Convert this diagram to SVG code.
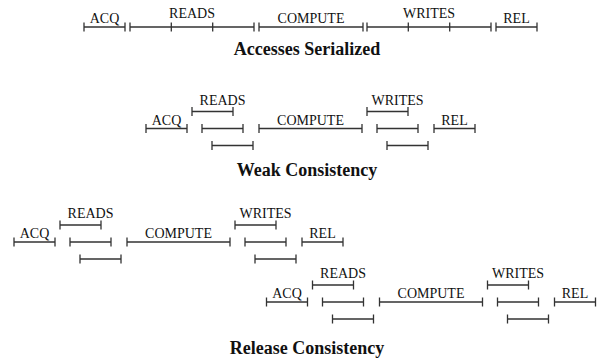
<svg xmlns="http://www.w3.org/2000/svg" width="603" height="360" viewBox="0 0 603 360">
<style>
.bar{fill:none;stroke:#333;stroke-width:1.3}
.lbl{font-family:"Liberation Serif","Times New Roman",serif;font-size:14px;text-anchor:middle;fill:#111}
.ttl{font-family:"Liberation Serif","Times New Roman",serif;font-size:18px;font-weight:bold;text-anchor:middle;fill:#111}
</style>
<rect width="603" height="360" fill="#fff"/>

<!-- Accesses Serialized -->
<g id="serialized">
  <g id="ser-acq">
    <path class="bar" d="M84 27H125M84 22.5V31.5M125 22.5V31.5"/>
    <text class="lbl" x="104.5" y="23">ACQ</text>
  </g>
  <g id="ser-reads">
    <path class="bar" d="M130 27H254M130 22.5V31.5M171.3 22.5V31.5M212.7 22.5V31.5M254 22.5V31.5"/>
    <text class="lbl" x="192" y="17.5">READS</text>
  </g>
  <g id="ser-compute">
    <path class="bar" d="M259 27H363M259 22.5V31.5M363 22.5V31.5"/>
    <text class="lbl" x="311" y="23">COMPUTE</text>
  </g>
  <g id="ser-writes">
    <path class="bar" d="M367 27H491M367 22.5V31.5M408.3 22.5V31.5M449.7 22.5V31.5M491 22.5V31.5"/>
    <text class="lbl" x="429" y="17.5">WRITES</text>
  </g>
  <g id="ser-rel">
    <path class="bar" d="M496 27H537M496 22.5V31.5M537 22.5V31.5"/>
    <text class="lbl" x="516.5" y="23">REL</text>
  </g>
  <text class="ttl" x="307" y="54.5">Accesses Serialized</text>
</g>

<!-- Weak Consistency -->
<g id="weak" transform="translate(146,128.5)">
  <g id="weak-acq">
    <path class="bar" d="M0 0H41M0 -4.5V4.5M41 -4.5V4.5"/>
    <text class="lbl" x="20.5" y="-4">ACQ</text>
  </g>
  <g id="weak-reads">
    <path class="bar" d="M46 -17H87M46 -21.5V-12.5M87 -21.5V-12.5"/>
    <path class="bar" d="M56 0H97M56 -4.5V4.5M97 -4.5V4.5"/>
    <path class="bar" d="M66 17H107M66 12.5V21.5M107 12.5V21.5"/>
    <text class="lbl" x="76.5" y="-24">READS</text>
  </g>
  <g id="weak-compute">
    <path class="bar" d="M113 0H216M113 -4.5V4.5M216 -4.5V4.5"/>
    <text class="lbl" x="164.5" y="-4">COMPUTE</text>
  </g>
  <g id="weak-writes">
    <path class="bar" d="M221 -17H262M221 -21.5V-12.5M262 -21.5V-12.5"/>
    <path class="bar" d="M231 0H272M231 -4.5V4.5M272 -4.5V4.5"/>
    <path class="bar" d="M241 17H282M241 12.5V21.5M282 12.5V21.5"/>
    <text class="lbl" x="251.5" y="-24">WRITES</text>
  </g>
  <g id="weak-rel">
    <path class="bar" d="M288 0H329M288 -4.5V4.5M329 -4.5V4.5"/>
    <text class="lbl" x="308.5" y="-4">REL</text>
  </g>
</g>
<text class="ttl" x="307" y="176">Weak Consistency</text>

<!-- Release Consistency, first section -->
<g id="rel1" transform="translate(14,242)">
  <g id="rel1-acq">
    <path class="bar" d="M0 0H41M0 -4.5V4.5M41 -4.5V4.5"/>
    <text class="lbl" x="20.5" y="-4">ACQ</text>
  </g>
  <g id="rel1-reads">
    <path class="bar" d="M46 -17H87M46 -21.5V-12.5M87 -21.5V-12.5"/>
    <path class="bar" d="M56 0H97M56 -4.5V4.5M97 -4.5V4.5"/>
    <path class="bar" d="M66 17H107M66 12.5V21.5M107 12.5V21.5"/>
    <text class="lbl" x="76.5" y="-24">READS</text>
  </g>
  <g id="rel1-compute">
    <path class="bar" d="M113 0H216M113 -4.5V4.5M216 -4.5V4.5"/>
    <text class="lbl" x="164.5" y="-4">COMPUTE</text>
  </g>
  <g id="rel1-writes">
    <path class="bar" d="M221 -17H262M221 -21.5V-12.5M262 -21.5V-12.5"/>
    <path class="bar" d="M231 0H272M231 -4.5V4.5M272 -4.5V4.5"/>
    <path class="bar" d="M241 17H282M241 12.5V21.5M282 12.5V21.5"/>
    <text class="lbl" x="251.5" y="-24">WRITES</text>
  </g>
  <g id="rel1-rel">
    <path class="bar" d="M288 0H329M288 -4.5V4.5M329 -4.5V4.5"/>
    <text class="lbl" x="308.5" y="-4">REL</text>
  </g>
</g>

<!-- Release Consistency, second section -->
<g id="rel2" transform="translate(266.5,302)">
  <g id="rel2-acq">
    <path class="bar" d="M0 0H41M0 -4.5V4.5M41 -4.5V4.5"/>
    <text class="lbl" x="20.5" y="-4">ACQ</text>
  </g>
  <g id="rel2-reads">
    <path class="bar" d="M46 -17H87M46 -21.5V-12.5M87 -21.5V-12.5"/>
    <path class="bar" d="M56 0H97M56 -4.5V4.5M97 -4.5V4.5"/>
    <path class="bar" d="M66 17H107M66 12.5V21.5M107 12.5V21.5"/>
    <text class="lbl" x="76.5" y="-24">READS</text>
  </g>
  <g id="rel2-compute">
    <path class="bar" d="M113 0H216M113 -4.5V4.5M216 -4.5V4.5"/>
    <text class="lbl" x="164.5" y="-4">COMPUTE</text>
  </g>
  <g id="rel2-writes">
    <path class="bar" d="M221 -17H262M221 -21.5V-12.5M262 -21.5V-12.5"/>
    <path class="bar" d="M231 0H272M231 -4.5V4.5M272 -4.5V4.5"/>
    <path class="bar" d="M241 17H282M241 12.5V21.5M282 12.5V21.5"/>
    <text class="lbl" x="251.5" y="-24">WRITES</text>
  </g>
  <g id="rel2-rel">
    <path class="bar" d="M288 0H329M288 -4.5V4.5M329 -4.5V4.5"/>
    <text class="lbl" x="308.5" y="-4">REL</text>
  </g>
</g>
<text class="ttl" x="307" y="354">Release Consistency</text>
</svg>
